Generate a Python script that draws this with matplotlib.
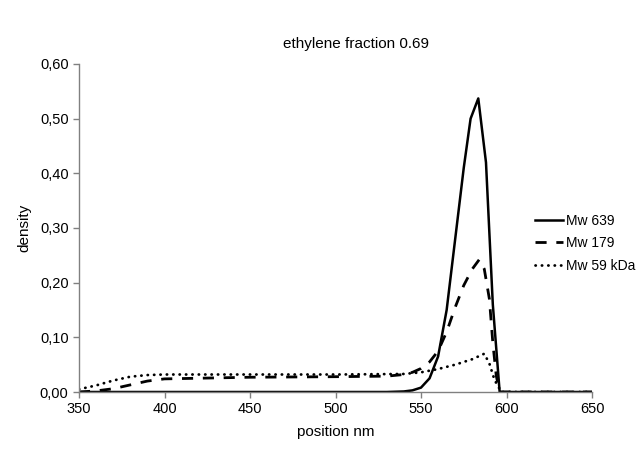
import numpy as np
import matplotlib.pyplot as plt
from matplotlib.ticker import FuncFormatter

plt.rcParams['font.family'] = ['Liberation Sans', 'DejaVu Sans']

# positions (nm) and densities
pos_639 = [350, 400, 450, 500, 530, 540, 545, 550, 555, 560, 565, 570, 575, 579, 583.5, 588, 592, 596, 600, 650]
dens_639 = [0.0, 0.0, 0.0, 0.0, 0.0, 0.001, 0.003, 0.008, 0.025, 0.065, 0.15, 0.28, 0.41, 0.50, 0.537, 0.42, 0.16, 0.0, 0.0, 0.0]

pos_179 = [350, 360, 370, 380, 390, 400, 450, 500, 530, 540, 545, 550, 555, 560, 565, 570, 575, 580, 584, 587, 590, 592, 594, 596, 600, 650]
dens_179 = [0.0, 0.002, 0.006, 0.013, 0.02, 0.024, 0.027, 0.028, 0.029, 0.032, 0.036, 0.043, 0.055, 0.075, 0.11, 0.155, 0.195, 0.225, 0.242, 0.225, 0.17, 0.09, 0.03, 0.0, 0.0, 0.0]

pos_59 = [350, 360, 370, 380, 390, 400, 450, 500, 540, 550, 560, 570, 580, 587, 590, 593, 597, 600, 650]
dens_59 = [0.005, 0.012, 0.021, 0.028, 0.031, 0.032, 0.032, 0.032, 0.033, 0.036, 0.042, 0.05, 0.06, 0.07, 0.052, 0.022, 0.0, 0.0, 0.0]

labels = ['Mw 639', 'Mw 179', 'Mw 59 kDa']

fig = plt.figure(figsize=(6.41, 4.5), dpi=100)
ax = fig.add_axes([79/641, 1 - 392/450, (592 - 79)/641, (392 - 64)/450])

ax.plot(pos_639, dens_639, color='black', lw=1.8, label=labels[0])
ax.plot(pos_179, dens_179, color='black', lw=2.0, dashes=(4, 3.5), label=labels[1])
ax.plot(pos_59, dens_59, color='black', lw=2.0, linestyle=(0, (0.1, 2.2)),
        dash_capstyle='round', label=labels[2])

ax.set_xlim(350, 650)
ax.set_ylim(0, 0.6)
ax.set_xticks(np.arange(350, 651, 50))
ax.set_yticks(np.arange(0, 0.61, 0.1))
ax.yaxis.set_major_formatter(FuncFormatter(lambda v, p: f'{v:.2f}'.replace('.', ',')))

for s in ['top', 'right']:
    ax.spines[s].set_visible(False)
for s in ['left', 'bottom']:
    ax.spines[s].set_color('#808080')
    ax.spines[s].set_linewidth(1.0)
ax.tick_params(colors='#808080', labelcolor='black', labelsize=10.5, length=4, width=1, direction='out')

ax.set_xlabel('position nm', fontsize=11, labelpad=6)
ax.set_ylabel('density', fontsize=11, labelpad=6)
fig.text(0.555, 0.893, 'ethylene fraction 0.69', fontsize=11, ha='center')

ax.legend(loc='upper left', bbox_to_anchor=(535/641, 1 - 214/450), bbox_transform=fig.transFigure,
          frameon=False, fontsize=10, handlelength=2.0, handletextpad=0.2,
          labelspacing=0.6, borderaxespad=0, borderpad=0)

fig.savefig('out.png', dpi=100)
